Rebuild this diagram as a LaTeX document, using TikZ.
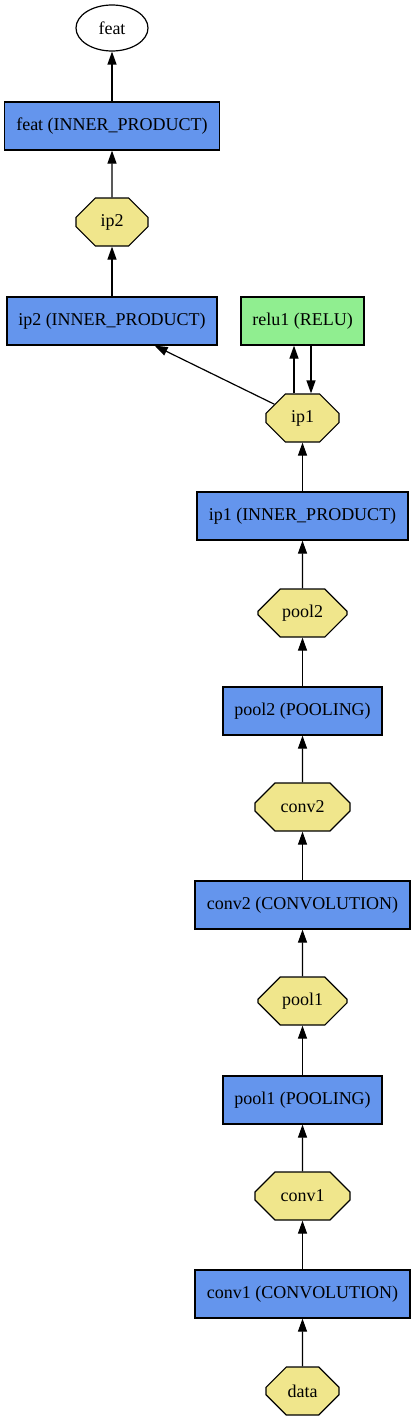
\documentclass[tikz,border=0pt]{standalone}
\usepackage{fontspec}
\setmainfont{Liberation Serif}
\usetikzlibrary{shapes.misc,shapes.geometric,arrows.meta}
\definecolor{cfblue}{HTML}{6495ED}
\definecolor{lgreen}{HTML}{90EE90}
\definecolor{khakic}{HTML}{F0E68C}
\tikzset{
  every node/.style={font=\fontsize{18}{22}\selectfont, line width=1.2pt, inner sep=0pt},
  layerbox/.style={draw, fill=cfblue, rectangle, minimum height=48pt},
  relubox/.style={draw, fill=lgreen, rectangle, minimum height=48pt},
  blob/.style={draw, fill=khakic, chamfered rectangle,
    chamfered rectangle xsep=#1, chamfered rectangle ysep=14pt, minimum height=48pt},
  outnode/.style={draw, fill=white, ellipse, minimum width=72pt, minimum height=46pt},
  flow/.style={line width=1.2pt, -{Triangle[length=13pt,width=9pt]}}
}
\begin{document}
\begin{tikzpicture}[x=1pt,y=-1pt]
\useasboundingbox (0,0) rectangle (415,1421);
\node[outnode] (featout) at (112,28) {feat};
\node[layerbox, minimum width=215pt] (featip) at (112,126) {feat (INNER\_PRODUCT)};
\node[blob=21pt, minimum width=72pt] (ip2) at (112,222) {ip2};
\node[layerbox, minimum width=210pt] (ip2ip) at (112,321) {ip2 (INNER\_PRODUCT)};
\node[relubox, minimum width=123pt] (relu1) at (302.5,321) {relu1 (RELU)};
\node[blob=21pt, minimum width=73pt] (ip1) at (302.5,418) {ip1};
\node[layerbox, minimum width=211pt] (ip1ip) at (302.5,516) {ip1 (INNER\_PRODUCT)};
\node[blob=26pt, minimum width=89pt] (pool2) at (302.5,613) {pool2};
\node[layerbox, minimum width=159pt] (pool2l) at (302.5,711) {pool2 (POOLING)};
\node[blob=28pt, minimum width=95pt] (conv2) at (302.5,807) {conv2};
\node[layerbox, minimum width=215pt] (conv2l) at (302.5,905) {conv2 (CONVOLUTION)};
\node[blob=26pt, minimum width=89pt] (pool1) at (302.5,1001) {pool1};
\node[layerbox, minimum width=159pt] (pool1l) at (302.5,1100) {pool1 (POOLING)};
\node[blob=28pt, minimum width=95pt] (conv1) at (302.5,1196) {conv1};
\node[layerbox, minimum width=215pt] (conv1l) at (302.5,1294) {conv1 (CONVOLUTION)};
\node[blob=21pt, minimum width=73pt] (data) at (302.5,1391) {data};

\draw[flow] (data) -- (conv1l);
\draw[flow] (conv1l) -- (conv1);
\draw[flow] (conv1) -- (pool1l);
\draw[flow] (pool1l) -- (pool1);
\draw[flow] (pool1) -- (conv2l);
\draw[flow] (conv2l) -- (conv2);
\draw[flow] (conv2) -- (pool2l);
\draw[flow] (pool2l) -- (pool2);
\draw[flow] (pool2) -- (ip1ip);
\draw[flow] (ip1ip) -- (ip1);
\draw[flow] ([xshift=-8.5pt]ip1.north) -- ([xshift=-8.5pt]relu1.south);
\draw[flow] ([xshift=8.5pt]relu1.south) -- ([xshift=8.5pt]ip1.north);
\draw[flow] (ip1) -- (ip2ip.330);
\draw[flow] (ip2ip) -- (ip2);
\draw[flow] (ip2) -- (featip);
\draw[flow] (featip) -- (featout);
\end{tikzpicture}
\end{document}
